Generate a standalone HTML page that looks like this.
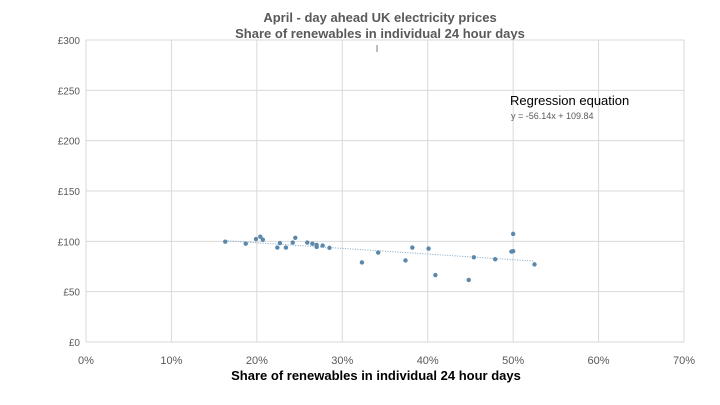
<!DOCTYPE html>
<html><head><meta charset="utf-8"><style>
body{margin:0;background:#fff;}
svg{display:block;font-family:"Liberation Sans",Arial,sans-serif;}
</style></head><body>
<svg id="c" width="720" height="405">
<text x="380" y="22" text-anchor="middle" font-size="13" font-weight="bold" fill="#595959">April - day ahead UK electricity prices</text>
<text x="380" y="38" text-anchor="middle" font-size="13" font-weight="bold" fill="#595959">Share of renewables in individual 24 hour days</text>
<text x="377" y="52" text-anchor="middle" font-size="10" fill="#777">I</text>
<g id="grid"></g><g id="trend"></g><g id="pts"></g>
<text x="376" y="380" text-anchor="middle" font-size="13" font-weight="bold" fill="#000">Share of renewables in individual 24 hour days</text>
<text x="510" y="105" font-size="13" fill="#000">Regression equation</text>
<text x="511" y="119" font-size="9" fill="#595959">y = -56.14x + 109.84</text>
</svg>
<script>
const xTicks=[0,10,20,30,40,50,60,70];
const yTicks=[0,50,100,150,200,250,300];
const share=[16.3,18.7,19.9,20.4,20.7,22.4,22.7,23.4,24.2,24.5,25.9,26.5,27.0,27.0,27.7,28.5,32.3,34.2,37.4,38.2,40.1,40.9,44.8,45.4,47.9,50.0,49.8,50.0,52.5];
const price=[99.6,97.7,102.3,104.6,101.6,93.8,98.3,93.8,98.8,103.5,98.8,97.7,96.4,94.4,95.8,93.5,79,88.8,81,93.8,92.8,66.5,61.6,84.1,82.2,107.4,89.8,90.2,77.1];
const slope=[-56.14], intercept=[109.84];
const L=86,R=684,T=40,B=342;
const X=v=>L+(v/70)*(R-L), Y=v=>B-(v/300)*(B-T);
const NS='http://www.w3.org/2000/svg';
function mk(t,a,p){const e=document.createElementNS(NS,t);for(const k in a)e.setAttribute(k,a[k]);p.appendChild(e);return e;}
const g=document.getElementById('grid');
yTicks.forEach(v=>{
 const l=mk('line',{x1:L,x2:R,y1:Y(v),y2:Y(v),stroke:'#d9d9d9','stroke-width':1},g);
 
 
 const t=mk('text',{x:L-6,y:Y(v)+4,'text-anchor':'end','font-size':10,fill:'#595959'},g);
 t.textContent='£'+v;
 
 
});
xTicks.forEach(v=>{
 const l=mk('line',{x1:X(v),x2:X(v),y1:T,y2:B,stroke:'#d9d9d9','stroke-width':1},g);
 
 
 const t=mk('text',{x:X(v),y:B+22,'text-anchor':'middle','font-size':11,fill:'#595959'},g);
 t.textContent=v+'%';
 
 
});
const mn=Math.min(...share),mx=Math.max(...share);
const f=x=>slope[0]*x/100+intercept[0];
const tl=mk('line',{x1:X(mn),y1:Y(f(mn)),x2:X(mx),y2:Y(f(mx)),stroke:'#7fa7c4','stroke-width':1,'stroke-dasharray':'1,1.5'},document.getElementById('trend'));


const pg=document.getElementById('pts');
share.forEach((s,i)=>{
 const c=mk('circle',{cx:X(s),cy:Y(price[i]),r:2.2,fill:'#5b87ab'},pg);
 
 
});
</script>
</body></html>
